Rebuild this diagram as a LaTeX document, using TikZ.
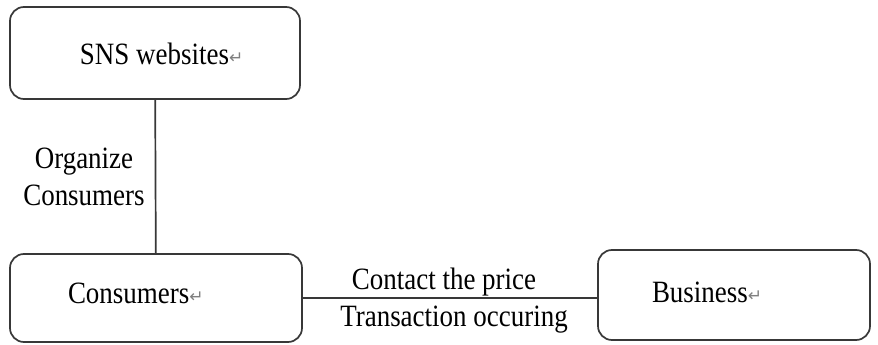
\documentclass[tikz,border=0pt]{standalone}
\usepackage{fontspec}
\setmainfont{Liberation Serif}[FakeStretch=0.87]
\newfontfamily\symfont{DejaVu Sans}
\usepackage{xcolor}
\usepackage{tikz}
\usetikzlibrary{positioning,calc}
\newcommand{\retmark}{{\symfont\fontsize{17}{19}\selectfont\color{black!50}\raisebox{1pt}{↵}}}

\begin{document}
\begin{tikzpicture}[x=1pt, y=-1pt, font=\fontsize{31}{37}\selectfont,
        box/.style={draw=black!78, line width=1.7pt, rounded corners=14pt, inner sep=0pt},
        link/.style={draw=black!78, line width=1.7pt}]
        \useasboundingbox (0,0) rectangle (878,345);

        \node[box, minimum width=290pt, minimum height=92pt, text height=22pt, text depth=0pt] (sns) at (155,53) {\makebox[290pt][l]{\hspace{70pt}SNS websites\retmark}};
        \node[box, minimum width=292pt, minimum height=88pt, text height=20pt, text depth=10pt] (cons) at (156,298) {\makebox[292pt][l]{\hspace{58pt}Consumers\retmark}};
        \node[box, minimum width=272pt, minimum height=90pt, text height=20pt, text depth=6pt] (biz) at (734,295) {\makebox[272pt][l]{\hspace{54pt}Business\retmark}};

        \draw[link] (sns) -- node[left=10pt, align=center, inner sep=0pt]{Organize\\Consumers} (cons);
        \draw[link] (cons.east) -- node[above=1pt, xshift=-6pt, inner sep=0pt]{Contact the price}
            node[below=7pt, xshift=4pt, inner sep=0pt]{Transaction occuring} (cons.east -| biz.west);
    \end{tikzpicture}
\end{document}
